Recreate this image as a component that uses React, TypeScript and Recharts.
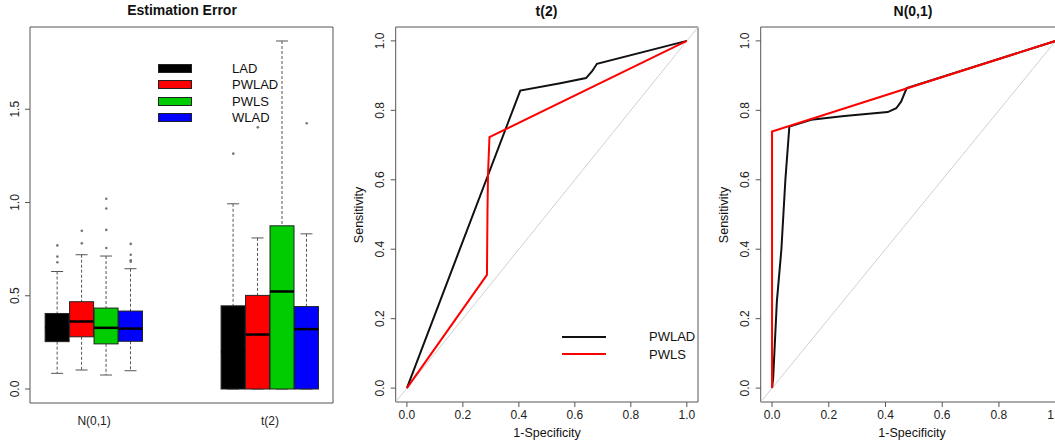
import React from 'react';
import {
  ComposedChart, LineChart, Bar, Scatter, Line, XAxis, YAxis, ReferenceArea
} from 'recharts';

const FONT = '"Liberation Sans", Arial, sans-serif';

// ---------- boxplot data ----------
const groups = ['N(0,1)', 't(2)'];
const methods = ['LAD', 'PWLAD', 'PWLS', 'WLAD'];
const methodColors = ['#000000', '#ff0000', '#00cd00', '#0000ff'];

// [lower whisker, q1, median, q3, upper whisker] per method
const statsNorm = [
  [0.084, 0.254, 0.33, 0.405, 0.63],
  [0.102, 0.28, 0.362, 0.468, 0.72],
  [0.075, 0.242, 0.328, 0.434, 0.713],
  [0.098, 0.256, 0.324, 0.418, 0.645],
];
const statsT2 = [
  [0, 0, 0.2, 0.446, 0.993],
  [0, 0, 0.292, 0.502, 0.81],
  [0, 0, 0.523, 0.875, 1.866],
  [0, 0, 0.321, 0.442, 0.832],
];
const outliersNorm = [
  [0.68, 0.71, 0.77],
  [0.781, 0.848],
  [0.756, 0.853, 0.968, 1.02],
  [0.683, 0.69, 0.72, 0.778],
];
const outliersT2 = [[1.262], [1.403], [], [1.425]];
const errTicks = [0, 0.5, 1, 1.5];

// ---------- ROC data ----------
const t2PwladFpr = [0, 0.405, 0.548, 0.64, 0.661, 0.679, 1];
const t2PwladTpr = [0, 0.857, 0.878, 0.893, 0.912, 0.934, 1];
const t2PwlsFpr = [0, 0.286, 0.288, 0.29, 0.295, 1];
const t2PwlsTpr = [0, 0.326, 0.518, 0.62, 0.723, 1];

const nPwladFpr = [0, 0.004, 0.017, 0.033, 0.047, 0.061, 0.138, 0.255, 0.408, 0.438, 0.455, 0.467, 0.475, 1];
const nPwladTpr = [0, 0.03, 0.25, 0.4, 0.6, 0.753, 0.773, 0.784, 0.795, 0.806, 0.825, 0.849, 0.864, 1];
const nPwlsFpr = [0, 0, 1];
const nPwlsTpr = [0, 0.739, 1];

const rocTicks = [0, 0.2, 0.4, 0.6, 0.8, 1];
const diagX = [-0.04, 1.04];

const toPoints = (xs: number[], ys: number[]) => xs.map((x, i) => ({ x, y: ys[i] }));

// box layout (in x-axis units)
const groupPos = [1, 2];
const boxStep = 0.139;
const boxRows = [statsNorm, statsT2].flatMap((g, gi) =>
  g.map((s, mi) => ({
    x: groupPos[gi] + (mi - 1.5) * boxStep,
    box: [s[1], s[3]],
    stats: s,
    color: methodColors[mi],
  }))
);
const outlierPts = [outliersNorm, outliersT2].flatMap((g, gi) =>
  g.flatMap((vals, mi) => vals.map(v => ({ x: groupPos[gi] + (mi - 1.5) * boxStep, y: v })))
);

const BoxShape = (props: any) => {
  const { x, y, width, height, payload } = props;
  const [lo, q1, med, q3, hi] = payload.stats;
  const k = height / (q3 - q1);
  const py = (v: number) => y + (q3 - v) * k;
  const cx = x + width / 2;
  const cap = width / 4;
  const wc = '#555';
  return (
    <g>
      <line x1={cx} x2={cx} y1={py(hi)} y2={y} stroke={wc} strokeDasharray="3 2" />
      <line x1={cx} x2={cx} y1={y + height} y2={py(lo)} stroke={wc} strokeDasharray="3 2" />
      <line x1={cx - cap} x2={cx + cap} y1={py(hi)} y2={py(hi)} stroke={wc} />
      <line x1={cx - cap} x2={cx + cap} y1={py(lo)} y2={py(lo)} stroke={wc} />
      <rect x={x} y={y} width={width} height={height} fill={payload.color} stroke="#222" />
      <line x1={x} x2={x + width} y1={py(med)} y2={py(med)} stroke="#000" strokeWidth={2.5} />
    </g>
  );
};

const Dot = (props: any) => <circle cx={props.cx} cy={props.cy} r={1.3} fill="#777" />;

const RotTick = (props: any) => {
  const { x, y, payload, dx } = props;
  return (
    <text transform={`translate(${x - dx},${y}) rotate(-90)`} textAnchor="middle"
      dominantBaseline="central" fontSize={12} fill="#222" fontFamily={FONT}>
      {Number(payload.value).toFixed(1)}
    </text>
  );
};

const BottomTick = (props: any) => {
  const { x, y, payload, dy, names, size } = props;
  const label = names ? names[groupPos.indexOf(payload.value)] : Number(payload.value).toFixed(1);
  return (
    <text x={x} y={y + dy} textAnchor="middle" dominantBaseline="central"
      fontSize={size} fill="#222" fontFamily={FONT}>
      {label}
    </text>
  );
};

const abs = (l: number, t: number, extra: React.CSSProperties = {}): React.CSSProperties => ({
  position: 'absolute', left: l, top: t, fontFamily: FONT, color: '#111', ...extra,
});

const Title = ({ cx, cy, text }: { cx: number; cy: number; text: string }) => (
  <div style={abs(cx - 100, cy - 10, { width: 200, textAlign: 'center', fontSize: 14, fontWeight: 700, lineHeight: '20px' })}>{text}</div>
);

const AxisTitle = ({ cx, cy, text, rotate }: { cx: number; cy: number; text: string; rotate?: boolean }) => (
  <div style={abs(cx - 60, cy - 8, {
    width: 120, textAlign: 'center', fontSize: 12.5, lineHeight: '16px',
    transform: rotate ? 'rotate(-90deg)' : undefined,
  })}>{text}</div>
);

const RocPanel = ({ left, width, yAxisW, right, pwlad, pwls }: any) => (
  <div style={{ position: 'absolute', left, top: 0 }}>
    <LineChart width={width} height={447} margin={{ top: 27, right, bottom: 0, left: 0 }}>
      <XAxis type="number" dataKey="x" domain={[-0.04, 1.04]} ticks={rocTicks} allowDataOverflow
        axisLine={false} tickSize={5} tickLine={{ stroke: '#555' }} height={45}
        tick={(p: any) => <BottomTick {...p} dy={6} size={12} />} />
      <YAxis type="number" domain={[-0.04, 1.04]} ticks={rocTicks} allowDataOverflow width={yAxisW}
        axisLine={false} tickSize={5} tickLine={{ stroke: '#555' }}
        tick={(p: any) => <RotTick {...p} dx={8.7} />} />
      <ReferenceArea x1={-0.04} x2={1.04} y1={-0.04} y2={1.04} fill="none" stroke="#555" strokeWidth={1} />
      <Line data={toPoints(diagX, diagX)} dataKey="y" stroke="#d0d0d0" strokeWidth={1} dot={false} isAnimationActive={false} />
      <Line data={pwlad} dataKey="y" stroke="#111" strokeWidth={2} dot={false} isAnimationActive={false} />
      <Line data={pwls} dataKey="y" stroke="#ff0000" strokeWidth={2} dot={false} isAnimationActive={false} />
    </LineChart>
  </div>
);

export default function App() {
  return (
    <div style={{ position: 'absolute', left: 0, top: 0, width: 1055, height: 447, overflow: 'hidden', background: '#fff' }}>
      {/* panel 1: estimation error boxplots */}
      <div style={{ position: 'absolute', left: 0, top: 0 }}>
        <ComposedChart width={345} height={447} data={boxRows} margin={{ top: 27, right: 12, bottom: 0, left: 0 }}>
          <XAxis type="number" dataKey="x" domain={[0.636, 2.358]} ticks={groupPos} allowDataOverflow
            axisLine={false} tickLine={false} tickSize={5} height={44}
            tick={(p: any) => <BottomTick {...p} dy={11} size={12} names={groups} />} />
          <YAxis type="number" domain={[-0.075, 1.941]} ticks={errTicks} allowDataOverflow width={30}
            axisLine={false} tickSize={5} tickLine={{ stroke: '#555' }}
            tick={(p: any) => <RotTick {...p} dx={8} />} />
          <ReferenceArea x1={0.636} x2={2.358} y1={-0.075} y2={1.941} fill="none" stroke="#555" strokeWidth={1} />
          <Bar dataKey="box" barSize={24} shape={<BoxShape />} isAnimationActive={false} />
          <Scatter data={outlierPts} dataKey="y" shape={<Dot />} isAnimationActive={false} />
        </ComposedChart>
      </div>
      <Title cx={182} cy={10} text="Estimation Error" />
      {methods.map((m, i) => (
        <React.Fragment key={m}>
          <div style={abs(158, 64 + i * 16.4, { width: 34, height: 9, boxSizing: 'border-box', background: methodColors[i], border: '1px solid #222' })} />
          <div style={abs(232, 61 + i * 16.4, { fontSize: 13, lineHeight: '16px' })}>{m}</div>
        </React.Fragment>
      ))}

      {/* panel 2: ROC t(2) */}
      <RocPanel left={340} width={360} yAxisW={55.7} right={2}
        pwlad={toPoints(t2PwladFpr, t2PwladTpr)} pwls={toPoints(t2PwlsFpr, t2PwlsTpr)} />
      <Title cx={546.5} cy={11} text="t(2)" />
      <AxisTitle cx={547} cy={433} text="1-Specificity" />
      <AxisTitle cx={359} cy={215} text="Sensitivity" rotate />
      <div style={abs(562, 336, { width: 44, height: 2, background: '#111' })} />
      <div style={abs(562, 353, { width: 44, height: 2, background: '#ff0000' })} />
      <div style={abs(649, 329, { fontSize: 13, lineHeight: '16px' })}>PWLAD</div>
      <div style={abs(649, 347, { fontSize: 13, lineHeight: '16px' })}>PWLS</div>

      {/* panel 3: ROC N(0,1) */}
      <RocPanel left={700} width={380} yAxisW={60.7} right={13}
        pwlad={toPoints(nPwladFpr, nPwladTpr)} pwls={toPoints(nPwlsFpr, nPwlsTpr)} />
      <Title cx={913} cy={11} text="N(0,1)" />
      <AxisTitle cx={912} cy={433} text="1-Specificity" />
      <AxisTitle cx={724} cy={215} text="Sensitivity" rotate />
    </div>
  );
}
